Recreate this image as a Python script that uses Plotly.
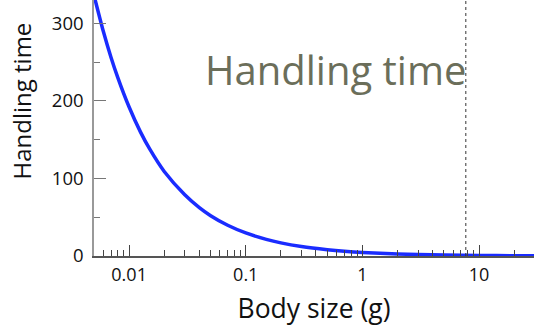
import plotly.graph_objects as go

# Body size (g) and handling time
body_size = [0.005, 0.006, 0.007, 0.008, 0.01, 0.0125, 0.015, 0.02, 0.03, 0.04,
             0.05, 0.07, 0.1, 0.15, 0.2, 0.3, 0.5, 0.7, 1, 2, 3, 5, 10, 20, 30]
handling_time = [336, 290, 256, 230, 192, 160, 138, 109, 79, 62.4,
                 52, 39.6, 29.7, 21.4, 16.9, 12.2, 8.1, 6.1, 4.6, 2.6, 1.9, 1.25, 0.71, 0.41, 0.29]

x_ticks = [0.01, 0.1, 1, 10]
x_tick_labels = ["0.01", "0.1", "1", "10"]
x_minor_ticks = [m * d for d in (0.001, 0.01, 0.1, 1, 10) for m in range(2, 10)]
y_ticks = [0, 100, 200, 300]
marker_size = 7.7  # dotted reference line

FONT = "Open Sans, Lato, sans-serif"

fig = go.Figure()
fig.add_trace(go.Scatter(
    x=body_size, y=handling_time, mode="lines",
    line=dict(color="#1a2cff", width=3.5, shape="spline", smoothing=0.6),
    hoverinfo="skip", showlegend=False,
))
fig.add_trace(go.Scatter(
    x=[marker_size, marker_size], y=[0, 330], mode="lines",
    line=dict(color="#333333", width=1, dash="dot"),
    hoverinfo="skip", showlegend=False,
))

# Panel heading inside the plot
fig.add_annotation(
    text="Handling time", xref="paper", yref="paper", x=0.548, y=0.73,
    xanchor="center", yanchor="middle",
    showarrow=False, font=dict(family=FONT, size=40, color="#6b6e5a"),
)
# Y-axis title, set a little above the plot's middle
fig.add_annotation(
    text="Handling time", xref="paper", yref="paper", x=-0.165, y=0.605,
    xanchor="center", yanchor="middle", textangle=-90,
    showarrow=False, font=dict(family=FONT, size=24, color="#111111"),
)

fig.update_layout(
    width=548, height=332,
    margin=dict(l=94, r=14, t=0, b=76),
    paper_bgcolor="white", plot_bgcolor="white",
    font=dict(family=FONT, color="#111111"),
    xaxis=dict(
        type="log", range=[-2.301, 1.471],
        tickvals=x_ticks, ticktext=x_tick_labels,
        ticks="inside", ticklen=11, tickwidth=1, tickcolor="#444444",
        showline=True, linecolor="#555555", linewidth=1.5,
        showgrid=False, zeroline=False,
        tickfont=dict(size=18), ticklabelstandoff=2,
        minor=dict(tickmode="array", tickvals=x_minor_ticks, ticks="inside",
                   ticklen=6, tickwidth=1, tickcolor="#444444", showgrid=False),
        title=dict(text="Body size (g)", font=dict(size=26.5), standoff=14),
    ),
    yaxis=dict(
        range=[0, 330], tickvals=y_ticks,
        ticks="inside", ticklen=12, tickwidth=1, tickcolor="#777777",
        showline=True, linecolor="#999999", linewidth=1.5,
        showgrid=False, zeroline=False,
        tickfont=dict(size=18.5), ticklabelstandoff=5,
        minor=dict(dtick=50, ticks="inside", ticklen=6, tickwidth=1, tickcolor="#777777", showgrid=False),
    ),
)

fig.write_html("out.html")
